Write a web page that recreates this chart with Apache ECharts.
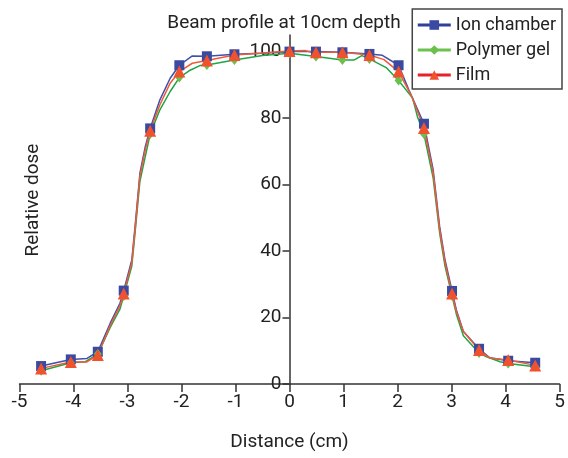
<!DOCTYPE html>
<html>
<head>
<meta charset="utf-8">
<script src="https://cdn.jsdelivr.net/npm/echarts@6/dist/echarts.min.js"></script>
<style>
  html, body { margin: 0; padding: 0; background: #fff; }
  #main { width: 568px; height: 458px; }
</style>
</head>
<body>
<div id="main"></div>
<script>
// measured points (with markers) and extra points along each curve, [distance cm, dose]
var ionMarks = [[-4.6, 5.4], [-4.05, 7.4], [-3.55, 9.7], [-3.07, 28.1], [-2.58, 76.9], [-2.04, 95.9],
    [-1.53, 98.6], [-1.02, 99.2], [0, 100], [0.49, 100], [0.98, 99.8], [1.48, 99.3],
    [2.02, 95.9], [2.49, 78.3], [3.01, 28], [3.51, 10.6], [4.05, 7.0], [4.55, 6.4]];
var ionLine = [[-3.75, 7.7], [-3.32, 18.3], [-3.14, 24.3], [-2.92, 37.3], [-2.86, 47.4], [-2.77, 63.4],
    [-2.67, 71.5], [-2.4, 85.5], [-2.21, 92], [-1.8, 98.7], [-0.5, 99.5], [1.72, 98.9],
    [2.21, 88.5], [2.66, 64.5], [2.78, 47.4], [2.88, 37.3], [3.09, 22.3], [3.22, 15.8], [3.71, 7.9]];

var gelMarks = [[-4.6, 4.0], [-4.05, 6.4], [-3.55, 9.0], [-3.07, 26.5], [-2.58, 75.2], [-2.04, 92.2],
    [-1.53, 96.0], [-1.02, 97.5], [0, 99.5], [0.49, 98.5], [0.98, 97.5], [1.48, 97.8],
    [2.02, 91.3], [2.49, 75.2], [3.01, 26.5], [3.51, 9.3], [4.05, 6.2], [4.55, 5.2]];
var gelLine = [[-3.78, 6.7], [-3.32, 17], [-3.14, 22.5], [-2.92, 35.5], [-2.86, 45.5], [-2.77, 61],
    [-2.67, 68.5], [-2.4, 82.5], [-2.21, 88], [-1.84, 94.4], [-1.66, 95.8], [-0.5, 98.8],
    [1.2, 97.5], [1.34, 98.8], [1.79, 95.2], [2.28, 86], [2.37, 80.4], [2.66, 62], [2.78, 45.5],
    [2.88, 35.5], [3.09, 21], [3.22, 14.5], [3.65, 8.2], [3.9, 6.7]];

var filmMarks = [[-4.6, 4.7], [-4.05, 6.6], [-3.55, 8.7], [-3.07, 27.2], [-2.58, 76.2], [-2.04, 94.0],
    [-1.53, 97.3], [-1.02, 99.0], [0, 100.2], [0.49, 99.8], [0.98, 99.8], [1.48, 99.0],
    [2.02, 94.0], [2.49, 77], [3.01, 27.2], [3.51, 10.2], [4.05, 7.2], [4.55, 5.6]];
var filmLine = [[-3.76, 6.6], [-3.32, 17.6], [-3.14, 23.5], [-2.92, 36.5], [-2.86, 46.5], [-2.77, 62.5],
    [-2.67, 70.5], [-2.4, 84], [-2.21, 90.5], [-1.8, 96.5], [-0.5, 99.6], [0.3, 100.3], [0.4, 99.8],
    [1.75, 97.6], [2.25, 87], [2.66, 63.5], [2.78, 46.5], [2.88, 36.5], [3.09, 21.8], [3.22, 15.8], [3.71, 7.8]];

var yTicks = [0, 20, 40, 60, 80, 100];

var font = 'Roboto, "Liberation Sans", sans-serif';

// markers only on measured points, plain line through the rest
function buildData(marks, line) {
    var all = marks.map(function (p) { return {value: p}; })
        .concat(line.map(function (p) { return {value: p, symbol: 'none'}; }));
    all.sort(function (a, b) { return a.value[0] - b.value[0]; });
    return all;
}

var myChart = echarts.init(document.getElementById('main'));
myChart.setOption({
    animation: false,
    title: {
        text: 'Beam profile at 10cm depth',
        left: 'center',
        top: 9,
        textStyle: {fontFamily: font, fontSize: 19, fontWeight: 'normal', color: '#222'}
    },
    legend: {
        orient: 'vertical',
        right: 6,
        top: 9,
        padding: [6, 6, 4, 4],
        itemWidth: 33,
        itemHeight: 12,
        itemGap: 5,
        borderColor: '#444',
        borderWidth: 1.5,
        borderRadius: 0,
        textStyle: {fontFamily: font, fontSize: 18, color: '#222', lineHeight: 20},
        data: [
            {name: 'Ion chamber', lineStyle: {color: '#2e3f9c', width: 3}},
            {name: 'Polymer gel', lineStyle: {color: '#6cc24f', width: 3}},
            {name: 'Film', lineStyle: {color: '#e8202a', width: 3}}
        ]
    },
    grid: {left: 19.5, right: 8.5, top: 35, bottom: 74, containLabel: false, outerBoundsMode: 'none'},
    xAxis: {
        type: 'value',
        min: -5, max: 5, interval: 1,
        name: 'Distance (cm)',
        nameLocation: 'middle',
        nameGap: 49,
        nameTextStyle: {fontFamily: font, fontSize: 19, color: '#222'},
        axisLine: {lineStyle: {color: '#333', width: 1.5}},
        axisTick: {length: 8, lineStyle: {color: '#333', width: 1.5}},
        axisLabel: {fontFamily: font, fontSize: 19, color: '#222', margin: 9},
        splitLine: {show: false}
    },
    yAxis: {
        type: 'value',
        min: 0, max: 105,
        position: 'left',
        offset: -270,
        axisLine: {onZero: false, lineStyle: {color: '#333', width: 1.5}},
        axisTick: {length: 7, customValues: yTicks, lineStyle: {color: '#333', width: 1.5}},
        axisLabel: {fontFamily: font, fontSize: 19, color: '#222', margin: 8, customValues: yTicks},
        splitLine: {show: false}
    },
    graphic: [{
        type: 'text',
        x: 33, y: 200,
        rotation: Math.PI / 2,
        style: {text: 'Relative dose', font: '19px ' + font, fill: '#222', align: 'center', verticalAlign: 'middle'}
    }],
    series: [
        {
            name: 'Ion chamber', type: 'line',
            data: buildData(ionMarks, ionLine),
            symbol: 'rect', symbolSize: 10,
            itemStyle: {color: '#3a4aa0'},
            lineStyle: {color: '#3f51a8', width: 1.5}
        },
        {
            name: 'Polymer gel', type: 'line',
            data: buildData(gelMarks, gelLine),
            symbol: 'diamond', symbolSize: [8, 10],
            itemStyle: {color: '#6cbf4b'},
            lineStyle: {color: '#1fa544', width: 1.5}
        },
        {
            name: 'Film', type: 'line',
            data: buildData(filmMarks, filmLine),
            symbol: 'triangle', symbolSize: 12,
            itemStyle: {color: '#f0522e'},
            lineStyle: {color: '#f05a3c', width: 1.5}
        }
    ]
});
</script>
</body>
</html>
